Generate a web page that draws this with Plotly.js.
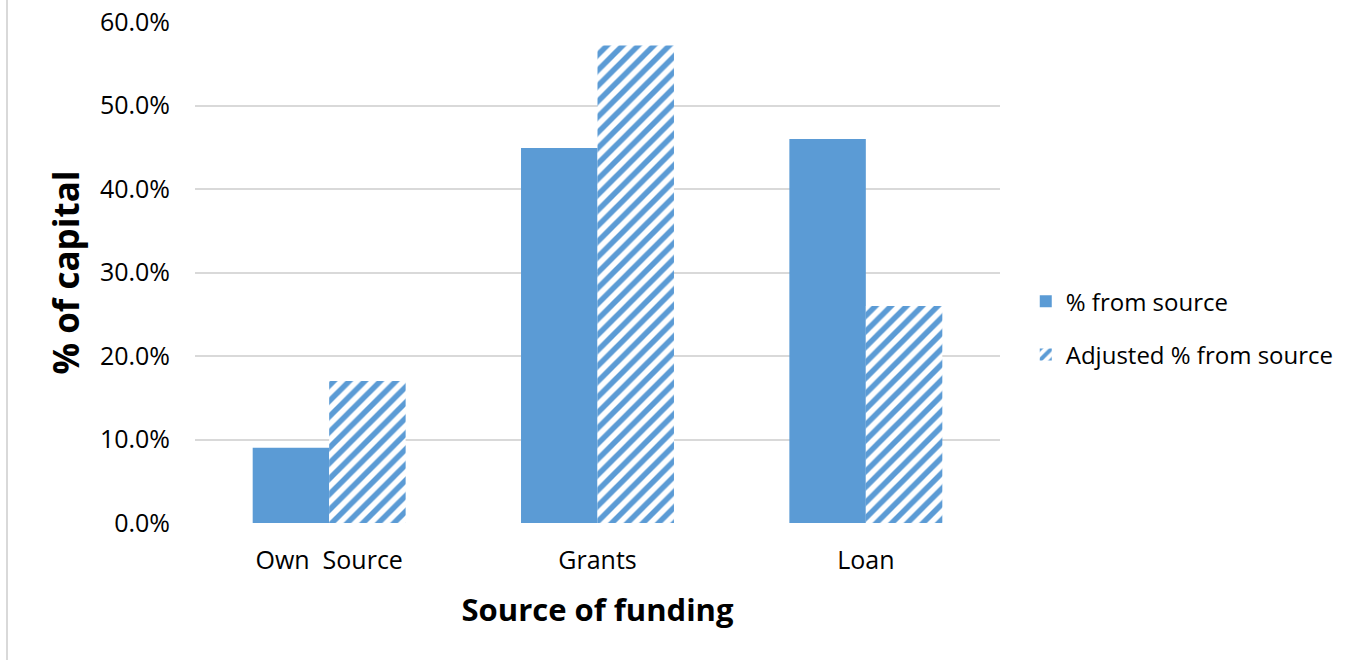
<!DOCTYPE html>
<html>
<head>
<meta charset="utf-8">
<script src="https://cdn.plot.ly/plotly-3.0.1.min.js"></script>
<style>
html,body{margin:0;padding:0;background:#fff;}
#chart{width:1355px;height:660px;}
</style>
</head>
<body>
<div id="chart"></div>
<script>
const categories = ["Own  Source", "Grants", "Loan"];
const seriesNames = ["% from source", "Adjusted % from source"];
const pctFromSource = [0.090, 0.449, 0.460];
const adjustedPct = [0.170, 0.572, 0.260];
const yTickVals = [0, 0.1, 0.2, 0.3, 0.4, 0.5, 0.6];
const yTickText = ["0.0%", "10.0%", "20.0%", "30.0%", "40.0%", "50.0%", "60.0%"];

const blue = "#5B9BD5";
const font = "Open Sans, Liberation Sans, sans-serif";

const traces = [
  {
    type: "bar", name: seriesNames[0], x: categories, y: pctFromSource,
    legendgroup: "a",
    marker: {color: blue, line: {width: 0}},
    hoverinfo: "skip"
  },
  {
    type: "bar", name: seriesNames[1], x: categories, y: adjustedPct,
    legendgroup: "b",
    marker: {color: "#ffffff", line: {width: 0},
      pattern: {shape: "/", fgcolor: blue, bgcolor: "#ffffff", size: 11, solidity: 0.5, fillmode: "replace"}},
    hoverinfo: "skip"
  }
];

const layout = {
  width: 1355, height: 660,
  margin: {l: 195, r: 355, t: 22, b: 137},
  paper_bgcolor: "#ffffff", plot_bgcolor: "#ffffff",
  font: {family: font, color: "#000000", size: 24},
  barmode: "group", bargap: 0.43, bargroupgap: 0,
  showlegend: true,
  legend: {x: 1.032, xanchor: "left", y: 0.389, yanchor: "middle",
    traceorder: "grouped", tracegroupgap: 19,
    font: {family: font, size: 24, color: "#000"}},
  xaxis: {
    type: "category", showgrid: false, zeroline: false, showline: false,
    ticks: "", ticklabelstandoff: 20,
    tickfont: {family: font, size: 25, color: "#000"},
    title: {text: "Source of funding", font: {family: font, size: 31, color: "#000", weight: "bold"}, standoff: 24},
    automargin: false
  },
  yaxis: {
    range: [0, 0.6], tickvals: yTickVals, ticktext: yTickText,
    showgrid: true, gridcolor: "#D9D9D9", gridwidth: 2,
    zeroline: false, showline: false, ticks: "", ticklabelstandoff: 24,
    tickfont: {family: font, size: 25, color: "#000"},
    title: {text: "% of capital", font: {family: font, size: 35, color: "#000", weight: "bold"}, standoff: 9},
    automargin: false
  },
  shapes: [
    {type: "line", xref: "paper", yref: "paper",
     x0: (7 - 195) / 805, x1: (7 - 195) / 805, y0: -137 / 501, y1: 1 + 22 / 501,
     line: {color: "#D9D9D9", width: 2}}
  ]
};

Plotly.newPlot("chart", traces, layout, {staticPlot: true, displayModeBar: false});
</script>
</body>
</html>
